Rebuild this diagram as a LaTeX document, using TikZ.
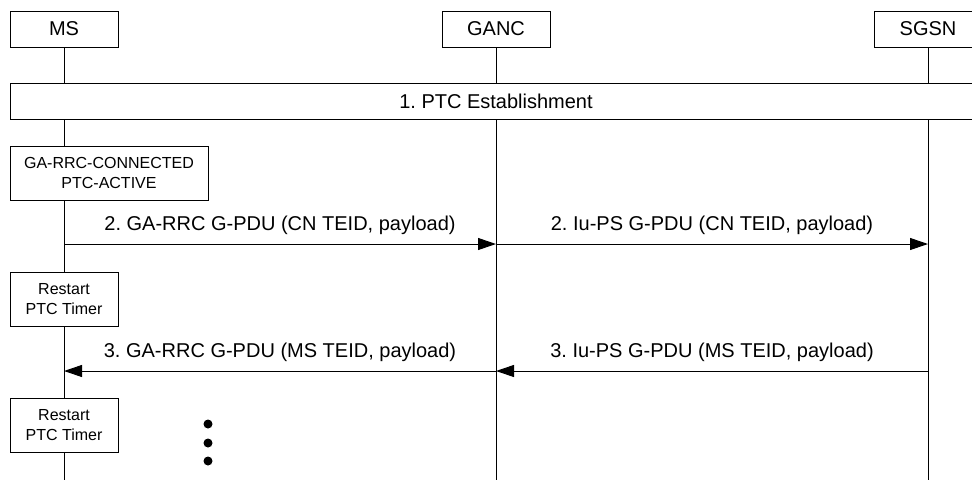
\documentclass[tikz,border=0pt]{standalone}
\usepackage{fontspec}
\setmainfont{Liberation Sans}
\frenchspacing
\usetikzlibrary{arrows.meta,positioning}
\tikzset{
  entity/.style   ={draw, fill=white, line width=0.75pt, minimum width=81pt, minimum height=27pt, font=\fontsize{15}{18}\selectfont},
  statebox/.style ={draw, fill=white, line width=0.75pt, minimum height=40.5pt, align=center, font=\fontsize{12}{14.5}\selectfont},
  lifeline/.style ={line width=0.75pt},
  msg/.style      ={-{Triangle[length=13.5pt,width=9pt]}, line width=0.75pt},
  msglabel/.style ={above=3pt, font=\fontsize{15}{18}\selectfont},
}

\begin{document}
\begin{tikzpicture}[
  x=0.75pt,y=-0.75pt,
  line cap=butt
]
\useasboundingbox (0,0) rectangle (972,480);

% --- Entities ------------------------------------------------------------
\node[entity] (ms)   at (64,29)  {MS};
\node[entity] (ganc) at (496,29) {GANC};
\node[entity] (sgsn) at (928,29) {SGSN};

% --- 1. PTC establishment (spans all lifelines) --------------------------
\node[entity, minimum width=729pt] (ptc) at (496,101) {1. PTC Establishment};

% --- MS state boxes ------------------------------------------------------
\node[statebox, minimum width=148.5pt] (state)    at (109,173) {GA-RRC-CONNECTED\\PTC-ACTIVE};
\node[statebox, minimum width=81pt]    (restartA) at (64,299)  {Restart\\PTC Timer};
\node[statebox, minimum width=81pt]    (restartB) at (64,425)  {Restart\\PTC Timer};

% --- Lifelines -----------------------------------------------------------
\coordinate (bottom) at (0,480);
\draw[lifeline] (ms.south) -- (ms |- ptc.north);
\draw[lifeline] (ms |- ptc.south) -- (ms |- state.north);
\draw[lifeline] (ms |- state.south) -- (restartA.north);
\draw[lifeline] (restartA.south) -- (restartB.north);
\draw[lifeline] (restartB.south) -- (ms |- bottom);

\draw[lifeline] (ganc.south) -- (ganc |- ptc.north);
\draw[lifeline] (ganc |- ptc.south) -- (ganc |- bottom);

\draw[lifeline] (sgsn.south) -- (sgsn |- ptc.north);
\draw[lifeline] (sgsn |- ptc.south) -- (sgsn |- bottom);

% --- 2. uplink G-PDU -----------------------------------------------------
\coordinate (ms2)   at (ms |- 0,244);
\coordinate (ganc2) at (ganc |- 0,244);
\coordinate (sgsn2) at (sgsn |- 0,244);
\draw[msg] (ms2) -- (ganc2)
  node[midway, msglabel] {2. GA-RRC G-PDU (CN TEID, payload)};
\draw[msg] (ganc2) -- (sgsn2)
  node[midway, msglabel] {2. Iu-PS G-PDU (CN TEID, payload)};

% --- 3. downlink G-PDU ---------------------------------------------------
\coordinate (ms3)   at (ms |- 0,371);
\coordinate (ganc3) at (ganc |- 0,371);
\coordinate (sgsn3) at (sgsn |- 0,371);
\draw[msg] (sgsn3) -- (ganc3)
  node[midway, msglabel] {3. Iu-PS G-PDU (MS TEID, payload)};
\draw[msg] (ganc3) -- (ms3)
  node[midway, msglabel] {3. GA-RRC G-PDU (MS TEID, payload)};

% --- continuation dots ---------------------------------------------------
\foreach \y in {424,443,461}
  \fill (208,\y) circle (4.5);

\end{tikzpicture}
\end{document}
